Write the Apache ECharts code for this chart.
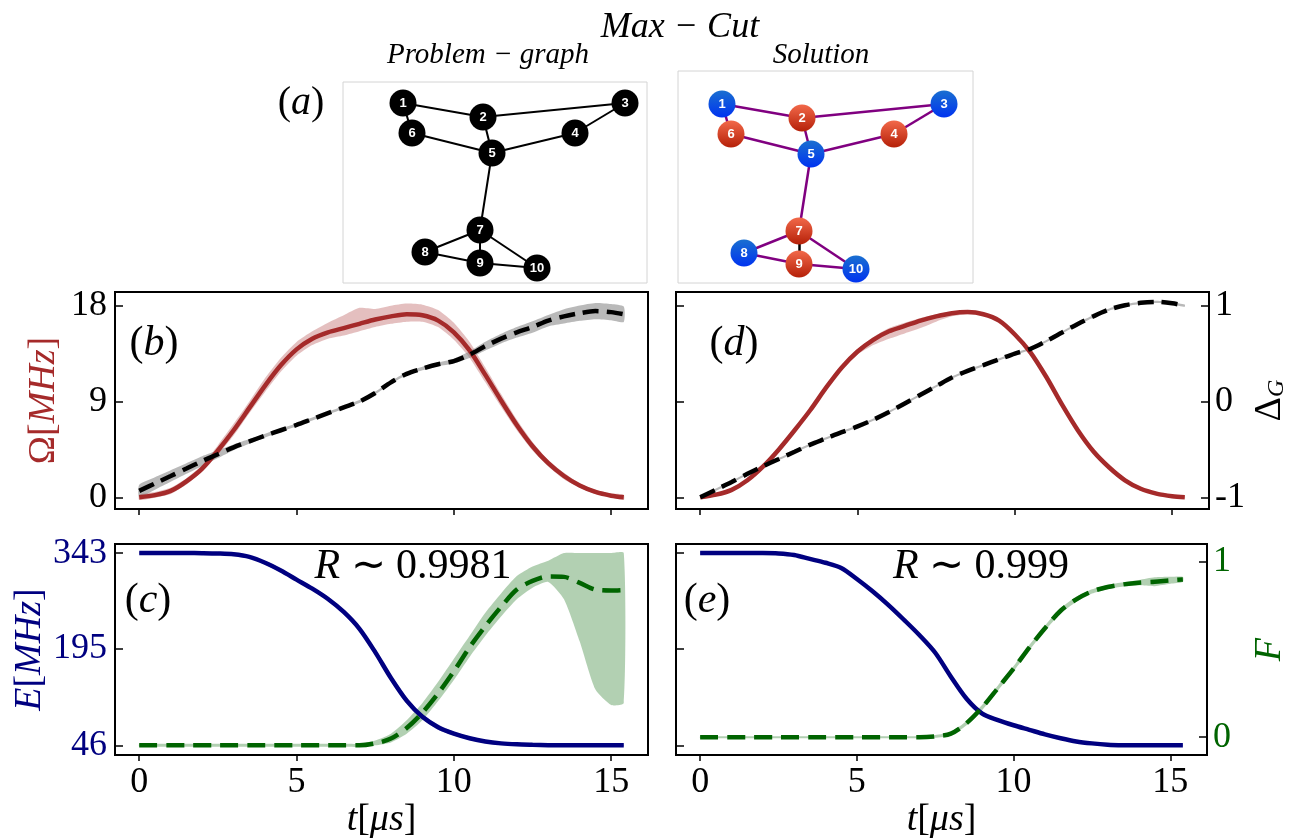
<!DOCTYPE html>
<html>
<head>
<meta charset="utf-8">
<script src="https://cdn.jsdelivr.net/npm/echarts@6/dist/echarts.min.js"></script>
<style>
html,body{margin:0;padding:0;background:#fff;}
#chart{width:1290px;height:840px;}
</style>
</head>
<body>
<div id="chart"></div>
<script>
// ---------- data ----------
const t = [0,0.5,1,1.5,2,2.5,3,3.5,4,4.5,5,5.5,6,6.5,7,7.5,8,8.5,9,9.5,10,10.5,11,11.5,12,12.5,13,13.5,14,14.5,15,15.4];
const xTicks = [0,5,10,15];
const omegaTicks = [0,9,18];
const deltaTicks = [-1,0,1];
const energyTicks = [46,195,343];
const fidTicks = [0,1];

// panel (b)
const omegaB   = [0,0.2,0.6,1.5,2.7,4.4,6.3,8.4,10.5,12.4,13.9,14.9,15.5,15.9,16.3,16.7,17.0,17.2,17.1,16.6,15.5,13.8,11.5,9.1,6.8,4.8,3.2,2.0,1.1,0.5,0.15,0];
const omegaBUp = [0.25,0.5,0.9,1.8,3.0,4.9,6.9,9.0,11.2,13.1,14.6,15.6,16.4,17.1,17.8,17.7,18.0,18.2,18.1,17.6,16.4,14.6,12.2,9.7,7.3,5.2,3.5,2.3,1.3,0.7,0.35,0.25];
const omegaBLo = [-0.25,-0.05,0.3,1.2,2.4,4.0,5.8,7.9,9.9,11.8,13.3,14.3,14.9,15.2,15.6,16.0,16.3,16.5,16.5,16.0,14.8,13.1,10.8,8.5,6.3,4.4,2.9,1.7,0.9,0.3,0.0,-0.25];
const deltaB   = [-0.933,-0.855,-0.778,-0.70,-0.622,-0.55,-0.478,-0.417,-0.356,-0.30,-0.244,-0.183,-0.122,-0.061,0.0,0.089,0.2,0.289,0.344,0.389,0.422,0.489,0.578,0.656,0.722,0.778,0.844,0.889,0.922,0.944,0.933,0.911];
const deltaBLo = [-0.998,-0.92,-0.838,-0.755,-0.672,-0.59,-0.508,-0.442,-0.376,-0.318,-0.259,-0.198,-0.137,-0.076,-0.015,0.074,0.185,0.274,0.326,0.369,0.397,0.454,0.533,0.606,0.667,0.718,0.784,0.814,0.842,0.859,0.848,0.831];
const deltaBUp = [-0.868,-0.79,-0.718,-0.645,-0.572,-0.51,-0.448,-0.392,-0.336,-0.282,-0.229,-0.168,-0.107,-0.046,0.015,0.104,0.215,0.304,0.362,0.409,0.447,0.524,0.623,0.706,0.777,0.838,0.904,0.964,1.002,1.029,1.018,0.991];

// panel (d)
const omegaD   = [0,0.25,0.7,1.6,2.9,4.5,6.3,8.2,10.3,12.2,13.7,14.8,15.6,16.1,16.6,17.0,17.3,17.4,17.2,16.6,15.3,13.6,11.3,8.7,6.3,4.3,2.8,1.6,0.8,0.35,0.1,0];
const omegaDUp = [0.1,0.4,0.85,1.75,3.05,4.65,6.45,8.35,10.45,12.4,13.9,15.05,15.9,16.4,16.85,17.2,17.45,17.55,17.35,16.75,15.45,13.75,11.45,8.85,6.45,4.45,2.95,1.75,0.95,0.5,0.25,0.12];
const omegaDLo = [-0.1,0.1,0.55,1.45,2.75,4.35,6.15,8.05,10.15,12.0,13.4,14.3,14.9,15.4,15.9,16.5,17.0,17.2,17.05,16.45,15.15,13.45,11.15,8.55,6.15,4.15,2.65,1.45,0.65,0.2,-0.05,-0.12];
const deltaD   = [-1.0,-0.92,-0.84,-0.755,-0.675,-0.60,-0.525,-0.45,-0.385,-0.32,-0.26,-0.19,-0.11,-0.02,0.07,0.16,0.25,0.32,0.38,0.44,0.50,0.55,0.63,0.72,0.81,0.89,0.96,1.005,1.03,1.04,1.025,1.0];
const deltaDSpread = [0.012,0.012,0.012,0.012,0.012,0.012,0.012,0.012,0.012,0.012,0.012,0.012,0.012,0.012,0.012,0.012,0.012,0.012,0.012,0.012,0.012,0.012,0.012,0.012,0.012,0.012,0.012,0.012,0.012,0.012,0.012,0.012];

// panel (c)
const energyC = [343,343,343,343,342.8,342.3,341,337,328,316,302,288,272,252,226,190,150,115,90,74,64,57,52,49,47.5,46.8,46.3,46,46,46,46,46];
const energyCSpread = [1,1,1,1,1,1,1.5,2,3,3,3,3,3,3,4,5,5,5,4,4,3,3,2,2,1.5,1,1,1,1,1,1,1];
const fidC   = [0,0,0,0,0,0,0,0,0,0,0,0,0,0,0,0.01,0.035,0.09,0.17,0.27,0.385,0.51,0.62,0.72,0.81,0.855,0.878,0.876,0.845,0.81,0.805,0.808];
const fidCLo = [-0.008,-0.008,-0.008,-0.008,-0.008,-0.008,-0.008,-0.008,-0.008,-0.008,-0.008,-0.008,-0.008,-0.008,-0.008,0.0,0.015,0.06,0.13,0.23,0.34,0.46,0.57,0.67,0.76,0.82,0.85,0.76,0.54,0.29,0.21,0.22];
const fidCUp = [0.008,0.008,0.008,0.008,0.008,0.008,0.008,0.008,0.008,0.008,0.008,0.008,0.008,0.008,0.008,0.025,0.06,0.13,0.22,0.33,0.45,0.57,0.69,0.79,0.88,0.93,0.96,1.0,1.0,1.0,1.0,1.0];

// panel (e)
const energyE = [343,343,343,343,343,342.5,340,334,328,320,303,284,263,240,216,189,152,118,95,85,77,70,63,57,52,49,47,46.2,46,46,46,46];
const energyESpread = [1,1,1,1,1,1,1.5,2,2,2.5,2.5,2.5,2.5,2.5,2.5,2.5,2.5,2,2,2,2,1.5,1.5,1,1,1,1,1,1,1,1,1];
const fidE = [0,0,0,0,0,0,0,0,0,0,0,0,0,0,0,0.005,0.02,0.08,0.17,0.28,0.39,0.51,0.62,0.72,0.785,0.83,0.855,0.87,0.88,0.885,0.893,0.898];
const fidESpread = [0.006,0.006,0.006,0.006,0.006,0.006,0.006,0.006,0.006,0.006,0.006,0.006,0.006,0.006,0.006,0.008,0.01,0.012,0.015,0.015,0.015,0.015,0.015,0.015,0.015,0.012,0.012,0.012,0.015,0.025,0.02,0.015];

// graph (a)
const nodeNames = ['1','2','3','4','5','6','7','8','9','10'];
const nodeX = [60,140,282,232,149,69,137,82,137,194];
const nodeY = [21,35,21,51,71,51,148,170,181,186];
const edges = [[1,2],[2,3],[3,4],[4,5],[2,5],[6,5],[1,6],[5,7],[7,8],[7,9],[8,9],[7,10],[9,10]];
const solutionSide = [0,1,0,1,0,1,1,0,1,0]; // 0 = blue, 1 = red

// ---------- styles ----------
const SERIF = 'Liberation Serif';
const BROWN = '#a52a2a', NAVY = '#000080', GREEN = '#006400';

function pts(ys){ return t.map((x,i)=>[x, ys[i]]); }

function band(id, xi, yi, lo, up, color){
  return {type:'custom', id:id, xAxisIndex:xi, yAxisIndex:yi, silent:true, z:1,
    data: t.map((x,i)=>[x, lo[i], up[i]]),
    encode:{x:0, y:[1,2]},
    renderItem: function(params, api){
      if (params.dataIndex !== 0) return null;
      const top = t.map((x,i)=>api.coord([x, up[i]]));
      const bot = t.map((x,i)=>api.coord([x, lo[i]])).reverse();
      return {type:'polygon', shape:{points: top.concat(bot), smooth:0.2}, style:{fill:color}};
    }
  };
}
function spreadBand(id, xi, yi, mean, sp, color){
  return band(id, xi, yi, mean.map((v,i)=>v-sp[i]), mean.map((v,i)=>v+sp[i]), color);
}
function line(id, xi, yi, ys, color, width, dash){
  return {type:'line', id:id, xAxisIndex:xi, yAxisIndex:yi, data: pts(ys), symbol:'none', smooth:0.3,
    lineStyle:{color:color, width:width, type: dash || 'solid', cap:'butt'}, silent:true, z:3};
}

const XMIN = -0.77, XMAX = 16.17;
function xAxis(grid, labels, named){
  return {type:'value', gridIndex:grid, min:XMIN, max:XMAX,
    axisLine:{show:false, onZero:false}, splitLine:{show:false},
    axisTick:{show:true, inside:false, length:6, lineStyle:{color:'#000', width:1.5}, customValues:xTicks},
    axisLabel:{show:labels, customValues:xTicks, fontFamily:SERIF, fontSize:36, color:'#000', margin:9},
    name: named ? '{i|t}[{i|μs}]' : '', nameLocation:'middle', nameGap:44,
    nameTextStyle:{fontFamily:SERIF, fontSize:38, color:'#000', rich:{i:{fontFamily:SERIF, fontSize:38, fontStyle:'italic', color:'#000'}}}
  };
}
function yAxis(grid, pos, min, max, ticks, opts){
  opts = opts || {};
  return {type:'value', gridIndex:grid, position:pos, min:min, max:max,
    show: opts.hidden ? false : true,
    axisLine:{show:false, onZero:false}, splitLine:{show:false},
    axisTick:{show:true, inside:true, length:8, lineStyle:{color:'#000', width:1.5}, customValues:ticks},
    axisLabel:{show:!!opts.labels, customValues:ticks, fontFamily:SERIF, fontSize:36, color:opts.labelColor||'#000', margin:opts.margin||8},
    name: opts.name || '', nameLocation:'middle', nameGap: opts.nameGap || 50,
    nameTextStyle: opts.nameStyle || {}
  };
}

const OMIN = -1.10, OMAX = 19.29;
const DMIN = -1.122, DMAX = 1.143;
const EMIN = 30.9, EMAX = 357.0;
const FEMIN = -0.102, FEMAX = 1.100;
const FCMIN = -0.0508, FCMAX = 1.047;

const option = {
  animation:false,
  backgroundColor:'#fff',
  grid:[
    {left:115, top:292, width:533, height:217, show:true, borderColor:'#000', borderWidth:2, backgroundColor:'transparent'},
    {left:676, top:292, width:533, height:217, show:true, borderColor:'#000', borderWidth:2, backgroundColor:'transparent'},
    {left:115, top:544, width:533, height:216, show:true, borderColor:'#000', borderWidth:2, backgroundColor:'transparent'},
    {left:676, top:544, width:533, height:216, show:true, borderColor:'#000', borderWidth:2, backgroundColor:'transparent'},
    {left:343, top:82, width:304, height:201, show:true, borderColor:'#d4d4d4', borderWidth:1, backgroundColor:'transparent'},
    {left:678, top:71, width:295, height:212, show:true, borderColor:'#d4d4d4', borderWidth:1, backgroundColor:'transparent'}
  ],
  xAxis:[
    xAxis(0,false,false),
    xAxis(1,false,false),
    xAxis(2,true,true),
    xAxis(3,true,true),
    {type:'value', gridIndex:4, min:0, max:304, show:false},
    {type:'value', gridIndex:5, min:16, max:311, show:false}
  ],
  yAxis:[
    yAxis(0,'left',OMIN,OMAX,omegaTicks,{labels:true, name:'{u|Ω}[{i|MHz}]', nameGap:52,
      nameStyle:{fontFamily:SERIF, fontSize:38, color:BROWN, rich:{u:{fontFamily:SERIF,fontSize:38,color:BROWN}, i:{fontFamily:SERIF,fontSize:38,fontStyle:'italic',color:BROWN}}}}),
    yAxis(0,'right',DMIN,DMAX,deltaTicks,{hidden:true}),
    yAxis(1,'left',OMIN,OMAX,omegaTicks,{}),
    yAxis(1,'right',DMIN,DMAX,deltaTicks,{labels:true, margin:6, name:'{d|Δ}{s|G}', nameGap:42,
      nameStyle:{fontFamily:SERIF, fontSize:38, color:'#000', rich:{d:{fontFamily:SERIF,fontSize:38,color:'#000'}, s:{fontFamily:SERIF,fontSize:24,fontStyle:'italic',color:'#000', padding:[14,0,0,0]}}}}),
    yAxis(2,'left',EMIN,EMAX,energyTicks,{labels:true, labelColor:NAVY, name:'{i|E}[{i|MHz}]', nameGap:66,
      nameStyle:{fontFamily:SERIF, fontSize:38, color:NAVY, rich:{i:{fontFamily:SERIF,fontSize:38,fontStyle:'italic',color:NAVY}}}}),
    yAxis(2,'right',FCMIN,FCMAX,fidTicks,{hidden:true}),
    yAxis(3,'left',EMIN,EMAX,energyTicks,{}),
    yAxis(3,'right',FEMIN,FEMAX,fidTicks,{labels:true, labelColor:GREEN, margin:6, name:'{i|F}', nameGap:44,
      nameStyle:{fontFamily:SERIF, fontSize:38, color:GREEN, rich:{i:{fontFamily:SERIF,fontSize:38,fontStyle:'italic',color:GREEN}}}}),
    {type:'value', gridIndex:4, min:0, max:201, inverse:true, show:false},
    {type:'value', gridIndex:5, min:-12, max:200, inverse:true, show:false}
  ],
  series:[
    // (b)
    band('omB',0,0,omegaBLo,omegaBUp,'rgba(165,42,42,0.3)'),
    band('dB',0,1,deltaBLo,deltaBUp,'rgba(128,128,128,0.55)'),
    line('omBLine',0,0,omegaB,BROWN,4.5),
    line('dBLine',0,1,deltaB,'#000',4.5,[16,8]),
    // (d)
    band('omD',1,2,omegaDLo,omegaDUp,'rgba(165,42,42,0.3)'),
    spreadBand('dD',1,3,deltaD,deltaDSpread,'rgba(128,128,128,0.55)'),
    line('omDLine',1,2,omegaD,BROWN,4.5),
    line('dDLine',1,3,deltaD,'#000',4.5,[16,8]),
    // (c)
    spreadBand('eC',2,4,energyC,energyCSpread,'rgba(0,0,128,0.3)'),
    band('fC',2,5,fidCLo,fidCUp,'rgba(0,100,0,0.3)'),
    line('eCLine',2,4,energyC,NAVY,4.5),
    line('fCLine',2,5,fidC,GREEN,4.5,[18,9]),
    // (e)
    spreadBand('eE',3,6,energyE,energyESpread,'rgba(0,0,128,0.3)'),
    spreadBand('fE',3,7,fidE,fidESpread,'rgba(0,100,0,0.3)'),
    line('eELine',3,6,energyE,NAVY,4.5),
    line('fELine',3,7,fidE,GREEN,4.5,[18,9]),
    // (a) problem graph
    {type:'graph', coordinateSystem:'cartesian2d', xAxisIndex:4, yAxisIndex:8, symbolSize:27, silent:true,
     data: nodeNames.map((n,i)=>({name:n, value:[nodeX[i], nodeY[i]], itemStyle:{color:'#000'}})),
     links: edges.map(e=>({source:String(e[0]), target:String(e[1])})),
     lineStyle:{color:'#000', width:2, opacity:1},
     label:{show:true, position:'inside', color:'#fff', fontSize:13, fontWeight:'bold', fontFamily:'Liberation Sans'}},
    // (a) solution graph
    {type:'graph', coordinateSystem:'cartesian2d', xAxisIndex:5, yAxisIndex:9, symbolSize:27, silent:true,
     data: nodeNames.map((n,i)=>({name:n, value:[nodeX[i], nodeY[i]], itemStyle:{color:
        solutionSide[i] ? {type:'linear',x:0,y:0,x2:0,y2:1,colorStops:[{offset:0,color:'#f2694a'},{offset:1,color:'#b52008'}]}
                        : {type:'linear',x:0,y:0,x2:0,y2:1,colorStops:[{offset:0,color:'#1a6fd0'},{offset:1,color:'#0033f0'}]}}})),
     links: edges.map(e=>({source:String(e[0]), target:String(e[1]),
        lineStyle:{color: solutionSide[e[0]-1]!==solutionSide[e[1]-1] ? '#800080' : '#000'}})),
     lineStyle:{width:2.5, opacity:1},
     label:{show:true, position:'inside', color:'#fff', fontSize:13, fontWeight:'bold', fontFamily:'Liberation Sans'}}
  ],
  graphic:[
    {type:'text', x:680, y:28, style:{text:'Max − Cut', align:'center', verticalAlign:'middle', font:'italic 36px "Liberation Serif"', fill:'#000'}},
    {type:'text', x:488, y:55, style:{text:'Problem − graph', align:'center', verticalAlign:'middle', font:'italic 29px "Liberation Serif"', fill:'#000'}},
    {type:'text', x:821, y:55, style:{text:'Solution', align:'center', verticalAlign:'middle', font:'italic 29px "Liberation Serif"', fill:'#000'}},
    {type:'text', x:301, y:103, style:{text:'({i|a})', align:'center', verticalAlign:'middle', font:'40px "Liberation Serif"', fill:'#000', rich:{i:{fontStyle:'italic', fontSize:40, fontFamily:SERIF}}}},
    {type:'text', x:154, y:344, style:{text:'({i|b})', align:'center', verticalAlign:'middle', font:'42px "Liberation Serif"', fill:'#000', rich:{i:{fontStyle:'italic', fontSize:42, fontFamily:SERIF}}}},
    {type:'text', x:734, y:344, style:{text:'({i|d})', align:'center', verticalAlign:'middle', font:'42px "Liberation Serif"', fill:'#000', rich:{i:{fontStyle:'italic', fontSize:42, fontFamily:SERIF}}}},
    {type:'text', x:148, y:601, style:{text:'({i|c})', align:'center', verticalAlign:'middle', font:'42px "Liberation Serif"', fill:'#000', rich:{i:{fontStyle:'italic', fontSize:42, fontFamily:SERIF}}}},
    {type:'text', x:707, y:601, style:{text:'({i|e})', align:'center', verticalAlign:'middle', font:'42px "Liberation Serif"', fill:'#000', rich:{i:{fontStyle:'italic', fontSize:42, fontFamily:SERIF}}}},
    {type:'text', x:413, y:567, style:{text:'{i|R} ∼ 0.9981', align:'center', verticalAlign:'middle', font:'42px "Liberation Serif"', fill:'#000', rich:{i:{fontStyle:'italic', fontSize:42, fontFamily:SERIF}}}},
    {type:'text', x:981, y:567, style:{text:'{i|R} ∼ 0.999', align:'center', verticalAlign:'middle', font:'42px "Liberation Serif"', fill:'#000', rich:{i:{fontStyle:'italic', fontSize:42, fontFamily:SERIF}}}}
  ]
};

const chart = echarts.init(document.getElementById('chart'), null, {renderer:'canvas'});
chart.setOption(option);
</script>
</body>
</html>
